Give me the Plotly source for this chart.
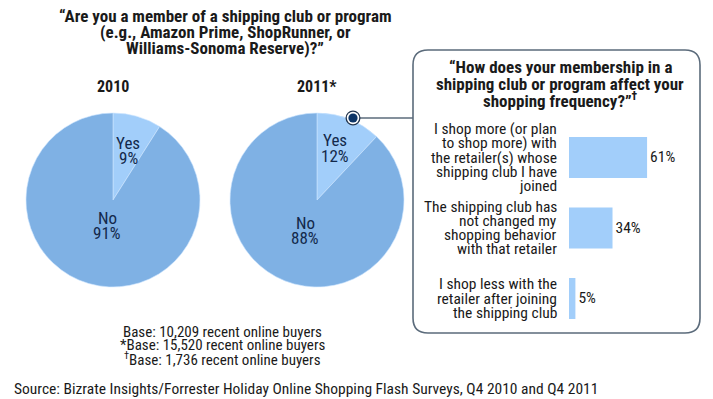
import plotly.graph_objects as go

W, H = 713, 399

# ---- data ----
pie_years = ["2010", "2011*"]
pie_labels = ["Yes", "No"]
pie_2010 = [9, 91]
pie_2011 = [12, 88]

bar_categories = [
    "I shop more (or plan<br>to shop more) with<br>the retailer(s) whose<br>shipping club I have<br>joined",
    "The shipping club has<br>not changed my<br>shopping behavior<br>with that retailer",
    "I shop less with the<br>retailer after joining<br>the shipping club",
]
bar_values = [61, 34, 5]

title_main = "“Are you a member of a shipping club or program<br>(e.g., Amazon Prime, ShopRunner, or<br>Williams-Sonoma Reserve)?”"
title_box = "“How does your membership in a<br>shipping club or program affect your<br>shopping frequency?”<sup>†</sup>"
base_notes = "Base: 10,209 recent online buyers<br>*Base: 15,520 recent online buyers<br><sup>†</sup>Base: 1,736 recent online buyers"
source_note = "Source: Bizrate Insights/Forrester Holiday Online Shopping Flash Surveys, Q4 2010 and Q4 2011"

FONT = "Liberation Sans Narrow, Roboto Condensed, Liberation Sans, Arial"
C_NO = "#7fb1e4"
C_YES = "#a2cefa"
C_TXT = "#1a1a1a"
C_PIE_TXT = "#13294b"
C_BOX = "#5b6b7b"


def px(x):
    return x / W


def py(y):
    return 1 - y / H


ann = []


def add_lines(text, x, y_center, spacing, size, color=C_TXT, bold=False, xanchor="center",
              yref="paper", yval=None):
    lines = text.split("<br>")
    n = len(lines)
    for k, line in enumerate(lines):
        off = (k - (n - 1) / 2) * spacing
        t = f"<b>{line}</b>" if bold else line
        if yref == "paper":
            ann.append(dict(text=t, x=x, y=py(y_center + off), xref="paper", yref="paper",
                            xanchor=xanchor, yanchor="middle", showarrow=False,
                            font=dict(size=size, color=color)))
        else:
            ann.append(dict(text=t, x=x, y=yval, xref="paper", yref=yref, yshift=-off,
                            xanchor=xanchor, yanchor="middle", showarrow=False,
                            font=dict(size=size, color=color)))


fig = go.Figure()

# pies
pie_specs = [(113, 200, pie_2010), (317, 200, pie_2011)]
R = 87
for cx, cy, vals in pie_specs:
    fig.add_trace(go.Pie(
        labels=pie_labels, values=vals, sort=False, direction="clockwise", rotation=0,
        marker=dict(colors=[C_YES, C_NO], line=dict(color="#cfe6ff", width=0.6)),
        textinfo="none", hoverinfo="label+percent", showlegend=False,
        domain=dict(x=[px(cx - R), px(cx + R)], y=[py(cy + R), py(cy - R)]),
    ))

# bars
fig.add_trace(go.Bar(
    x=bar_values, y=list(range(len(bar_values))), orientation="h",
    marker=dict(color=C_YES, line=dict(width=0)),
    text=[f"{v}%" for v in bar_values], textposition="outside", cliponaxis=False,
    textfont=dict(family=FONT, size=15.5, color=C_TXT),
    showlegend=False, xaxis="x", yaxis="y",
))

bar_top, bar_bot = 122.25, 333.75
fig.update_layout(
    width=W, height=H,
    margin=dict(l=0, r=0, t=0, b=0),
    paper_bgcolor="white", plot_bgcolor="rgba(0,0,0,0)",
    font=dict(family=FONT, color=C_TXT),
    bargap=0.42,
    xaxis=dict(domain=[px(569), px(697)], range=[0, 100], visible=False, fixedrange=True),
    yaxis=dict(domain=[py(bar_bot), py(bar_top)], range=[2.5, -0.5], visible=False, fixedrange=True),
)

# main title
add_lines(title_main, px(225), 31.5, 16, 17, bold=True)
# years
for (cx, _, _), yr in zip(pie_specs, pie_years):
    add_lines(yr, px(cx), 86, 16, 16, bold=True)
# pie labels
pie_label_pos = [((128, 150), (107, 225)), ((335, 148), (305, 230))]
for ((yx, yy), (nx, ny)), vals in zip(pie_label_pos, [pie_2010, pie_2011]):
    add_lines(f"{pie_labels[0]}<br>{vals[0]}%", px(yx), yy, 15, 17, color=C_PIE_TXT)
    add_lines(f"{pie_labels[1]}<br>{vals[1]}%", px(nx), ny, 15, 17, color=C_PIE_TXT)
# box title
add_lines(title_box, px(560), 83.5, 16.5, 17, bold=True)
# bar category labels
for i, c in enumerate(bar_categories):
    add_lines(c, px(559), None, 14.2, 15.5, xanchor="right", yref="y", yval=i)
# base notes
add_lines(base_notes, px(222), 345, 13.5, 15)
# source
add_lines(source_note, px(12), 389, 16, 15.5, xanchor="left")
fig.update_layout(annotations=ann)

# rounded box
x0, y0, x1, y1, r = 413, 50, 700, 333, 15
path = (f"M {px(x0 + r)},{py(y0)} L {px(x1 - r)},{py(y0)} Q {px(x1)},{py(y0)} {px(x1)},{py(y0 + r)} "
        f"L {px(x1)},{py(y1 - r)} Q {px(x1)},{py(y1)} {px(x1 - r)},{py(y1)} "
        f"L {px(x0 + r)},{py(y1)} Q {px(x0)},{py(y1)} {px(x0)},{py(y1 - r)} "
        f"L {px(x0)},{py(y0 + r)} Q {px(x0)},{py(y0)} {px(x0 + r)},{py(y0)} Z")
shapes = [dict(type="path", path=path, xref="paper", yref="paper", line=dict(color=C_BOX, width=1.6))]
# connector line and marker
mx, my = 353, 118
shapes.append(dict(type="line", x0=px(mx + 6), x1=px(x0), y0=py(my), y1=py(my), xref="paper", yref="paper",
                   line=dict(color=C_BOX, width=1.4)))
for rad, col in [(7.5, "#23364f"), (6.2, "white"), (4.6, "#0d3566")]:
    shapes.append(dict(type="circle", x0=px(mx - rad), x1=px(mx + rad), y0=py(my + rad), y1=py(my - rad),
                       xref="paper", yref="paper", fillcolor=col, line=dict(width=0)))
fig.update_layout(shapes=shapes)

fig.write_html("out.html", config={"displayModeBar": False},
               post_script="document.body.style.margin='0';document.body.style.overflow='hidden';")
